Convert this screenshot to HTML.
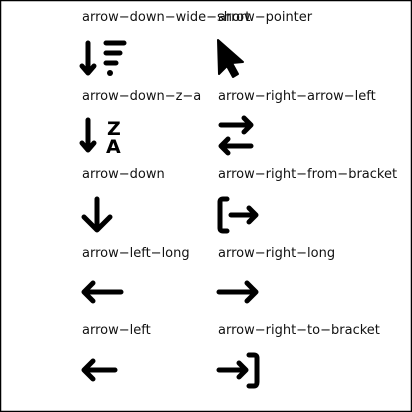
<!DOCTYPE html>
<html><head><style>
html,body{margin:0;padding:0;background:#fff}
svg{display:block}
text{font-family:"DejaVu Sans","Liberation Sans",sans-serif;font-size:13px;fill:#111}
</style></head><body>
<svg width="412" height="412" viewBox="0 0 412 412" xmlns="http://www.w3.org/2000/svg">
<rect x="0.5" y="0.5" width="411" height="411" fill="#fff" stroke="#000" stroke-width="1.5"/>
<g>
<text x="82" y="21">arrow−down−wide−short</text>
<text x="218" y="21">arrow−pointer</text>
<text x="82" y="100">arrow−down−z−a</text>
<text x="218" y="100">arrow−right−arrow−left</text>
<text x="82" y="178">arrow−down</text>
<text x="218" y="178">arrow−right−from−bracket</text>
<text x="82" y="257">arrow−left−long</text>
<text x="218" y="257">arrow−right−long</text>
<text x="82" y="334">arrow−left</text>
<text x="218" y="334">arrow−right−to−bracket</text>
</g>
<g fill="none" stroke="#000" stroke-width="5" stroke-linecap="round" stroke-linejoin="round">
<path d="M88 43V73M82 66L88 73L94 66"/>
<path d="M106 43H124M106 53H120M106 63H116"/>
<path d="M88 120V150M82 143L88 150L94 143"/>
<path d="M221 125H251M244 118L251 125L244 132"/>
<path d="M251 146H221M228 139L221 146L228 153"/>
<path d="M97 199V230M84 217L97 230L110 217"/>
<path d="M227 199H223Q220 199 220 202V228Q220 231 223 231H227"/>
<path d="M231 215H256M249 208L256 215L249 222"/>
<path d="M121 292H84M93 283L84 292L93 301"/>
<path d="M219 292H256M247 283L256 292L247 301"/>
<path d="M115 370H84M93 361L84 370L93 379"/>
<path d="M219 370H246M239 363L246 370L239 377"/>
<path d="M249 355H254Q257 355 257 358V382Q257 386 254 386H249"/>
</g>
<circle cx="110" cy="73" r="3" fill="#000"/>
<path d="M218 40L243 62L232 63L238 74L233 77L227 66L219 74Z" fill="#000" stroke="#000" stroke-width="2" stroke-linejoin="round"/>
<text x="107" y="135" style="font-size:19px;font-weight:bold;fill:#000">Z</text>
<text x="106" y="153" style="font-size:19px;font-weight:bold;fill:#000">A</text>
</svg>
</body></html>
